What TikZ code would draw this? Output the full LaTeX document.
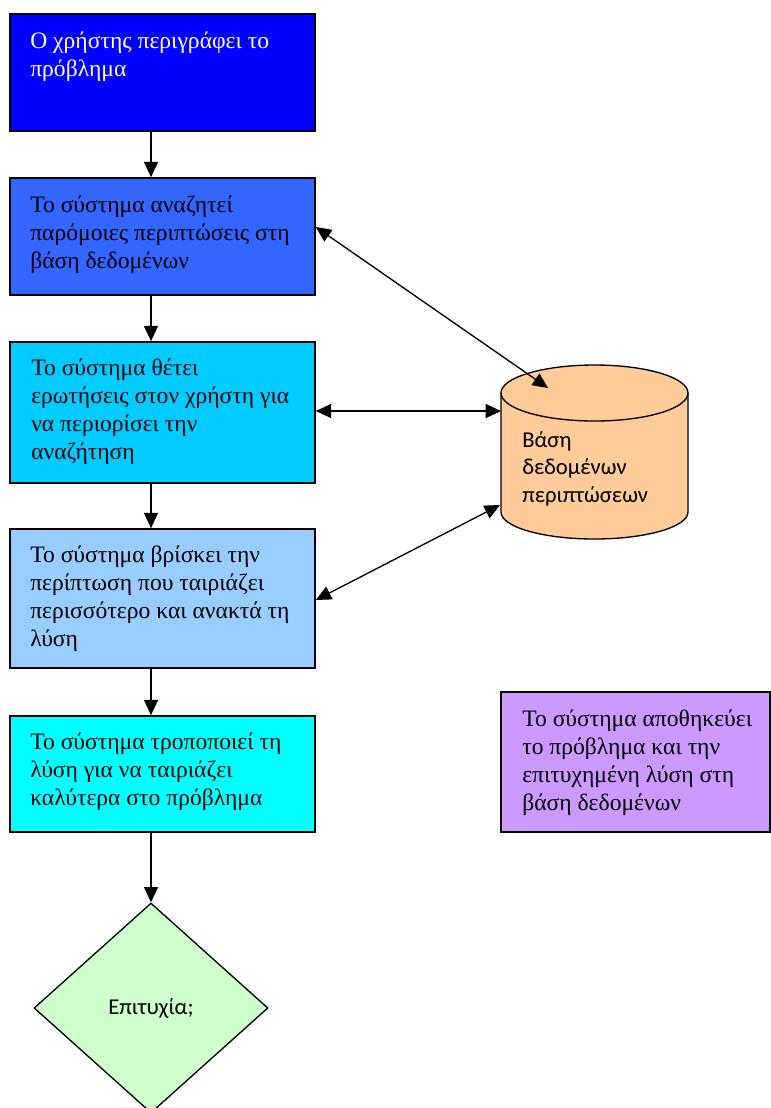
\documentclass[tikz,border=0pt]{standalone}
\usepackage{fontspec}
\setmainfont{Liberation Serif}
\newfontfamily\carlitofont{Carlito}
\usetikzlibrary{shapes.geometric,arrows.meta,calc}

\definecolor{cBlue}{HTML}{0000FF}
\definecolor{cRoyal}{HTML}{3366FF}
\definecolor{cSky}{HTML}{00CCFF}
\definecolor{cPale}{HTML}{99CCFF}
\definecolor{cAqua}{HTML}{00FFFF}
\definecolor{cMint}{HTML}{CCFFCC}
\definecolor{cPeach}{HTML}{FFCC99}
\definecolor{cLilac}{HTML}{CC99FF}

\begin{document}
\begin{tikzpicture}[x=0.75pt,y=0.75pt,
  stepbox/.style={draw=black, line width=1.2pt, rectangle, inner sep=0pt},
  steptxt/.style={anchor=north west, inner sep=0pt, align=left,
    font=\fontsize{17.7}{21}\selectfont},
  dbtxt/.style={anchor=north west, inner sep=0pt, align=left,
    font=\carlitofont\fontsize{17}{20.6}\selectfont},
  arr/.style={draw=black, line width=1pt, -{Triangle[length=11.5pt,width=10.5pt]}},
  darr/.style={draw=black, line width=1pt,
    {Triangle[length=11.5pt,width=10.5pt]}-{Triangle[length=11.5pt,width=10.5pt]}}]

\clip (0,0) rectangle (771,-1108);
\fill[white] (0,0) rectangle (771,-1108);

% process steps
\node[stepbox, fill=cBlue,  minimum width=305*0.75pt, minimum height=117*0.75pt] (b1) at (162.5,-72.5) {};
\node[stepbox, fill=cRoyal, minimum width=305*0.75pt, minimum height=117*0.75pt] (b2) at (162.5,-236.5) {};
\node[stepbox, fill=cSky,   minimum width=305*0.75pt, minimum height=141*0.75pt] (b3) at (162.5,-412.5) {};
\node[stepbox, fill=cPale,  minimum width=305*0.75pt, minimum height=139*0.75pt] (b4) at (162.5,-598.5) {};
\node[stepbox, fill=cAqua,  minimum width=305*0.75pt, minimum height=116*0.75pt] (b5) at (162.5,-774) {};
\node[stepbox, fill=cLilac, minimum width=269*0.75pt, minimum height=140*0.75pt] (p) at (635.5,-762) {};

\node[steptxt, text=white] (t1) at (30,-28.4) {\strut Ο χρήστης περιγράφει το\\πρόβλημα};
\node[steptxt] (t2) at (30,-192.4) {\strut Το σύστημα αναζητεί\\παρόμοιες περιπτώσεις στη\\βάση δεδομένων};
\node[steptxt] (t3) at (31,-355.4) {\strut Το σύστημα θέτει\\ερωτήσεις στον χρήστη για\\να περιορίσει την\\αναζήτηση};
\node[steptxt] (t4) at (30,-542.4) {\strut Το σύστημα βρίσκει την\\περίπτωση που ταιριάζει\\περισσότερο και ανακτά τη\\λύση};
\node[steptxt] (t5) at (30,-729.4) {\strut Το σύστημα τροποποιεί τη\\λύση για να ταιριάζει\\καλύτερα στο πρόβλημα};
\node[steptxt] (tp) at (522,-706.4) {\strut Το σύστημα αποθηκεύει\\το πρόβλημα και την\\επιτυχημένη λύση στη\\βάση δεδομένων};

% decision
\node[draw=black, line width=1pt, fill=cMint, diamond, inner sep=0pt, aspect=1.114,
  minimum width=234*0.75pt, minimum height=210*0.75pt,
  font=\carlitofont\fontsize{17}{20}\selectfont] (dia) at (151,-1008) {Επιτυχία;};

% case database (cylinder)
\fill[cPeach] (501,-393) -- (501,-512)
  arc[start angle=180, end angle=360, x radius=93.5, y radius=27]
  -- (688,-393)
  arc[start angle=0, end angle=180, x radius=93.5, y radius=28] -- cycle;
\draw[line width=1pt] (501,-393) -- (501,-512)
  arc[start angle=180, end angle=360, x radius=93.5, y radius=27]
  -- (688,-393);
\draw[line width=1pt] (594.5,-393) ellipse[x radius=93.5, y radius=28];
\node[dbtxt] (db) at (522,-427.8) {\strut Βάση\\δεδομένων\\περιπτώσεων};
\coordinate (dbA) at (548,-388);
\coordinate (dbB) at (501,-411);
\coordinate (dbC) at (500,-505);

% flow
\draw[arr] (b1.south -| dia.north) -- (b2.north -| dia.north);
\draw[arr] (b2.south -| dia.north) -- (b3.north -| dia.north);
\draw[arr] (b3.south -| dia.north) -- (b4.north -| dia.north);
\draw[arr] (b4.south -| dia.north) -- (b5.north -| dia.north);
\draw[arr] (b5.south -| dia.north) -- (dia.north);

% database exchanges
\draw[darr] ($(b2.east)+(0,9.5)$) -- (dbA);
\draw[darr] (b3.east |- dbB) -- (dbB);
\draw[darr] ($(b4.east)+(0,-1.5)$) -- (dbC);

\end{tikzpicture}
\end{document}
